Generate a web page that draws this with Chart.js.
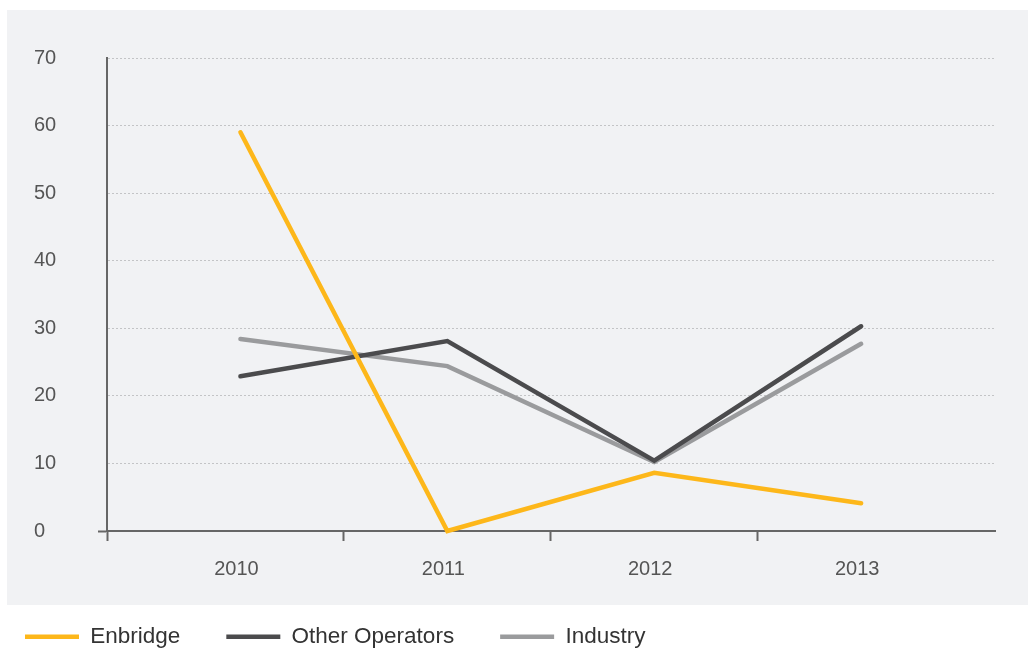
<!DOCTYPE html>
<html>
<head>
<meta charset="utf-8">
<script src="https://cdn.jsdelivr.net/npm/chart.js@4.4.1/dist/chart.umd.min.js"></script>
<style>
  html, body { margin: 0; padding: 0; background: #fff; overflow: hidden; width: 1028px; height: 652px; }
  .panel { position: absolute; left: 7px; top: 10px; width: 1021px; height: 595px; background: #f1f2f4; }
  #chart { position: absolute; left: -24px; top: 0; }
</style>
</head>
<body>
<div class="panel"></div>
<canvas id="chart" width="1052" height="658"></canvas>
<script>
const years = ["2010", "2011", "2012", "2013"];
const enbridge = [59, 0, 8.6, 4.1];
const otherOperators = [22.9, 28.1, 10.4, 30.3];
const industry = [28.4, 24.4, 10.2, 27.7];
const yTicks = [0, 10, 20, 30, 40, 50, 60, 70];

const FONT = "'Liberation Sans', Arial, sans-serif";
const AXIS = "#666";

// years sit on whole numbers, the small divider marks sit halfway between them
const toPoints = (arr) => arr.map((v, i) => ({ x: i, y: v }));

function line(label, data, color) {
    return {
        label,
        data: toPoints(data),
        borderColor: color,
        backgroundColor: color,
        borderWidth: 4.5,
        borderCapStyle: "round",
        borderJoinStyle: "miter",
        pointRadius: 0,
        pointHoverRadius: 0,
        tension: 0,
        fill: false,
        clip: false,
    };
}

new Chart(document.getElementById("chart"), {
    type: "line",
    data: {
        datasets: [
            line("Enbridge", enbridge, "#fdb71a"),
            line("Other Operators", otherOperators, "#4b4b4d"),
            line("Industry", industry, "#9a9b9d"),
        ],
    },
    options: {
        responsive: false,
        animation: false,
        layout: { padding: { left: 3, right: 33, top: 58, bottom: 0 } },
        plugins: {
            tooltip: { enabled: false },
            legend: {
                position: "bottom",
                align: "start",
                labels: {
                    usePointStyle: true,
                    pointStyle: "line",
                    pointStyleWidth: 54,
                    padding: 46,
                    color: "#333",
                    font: { family: FONT, size: 22.5 },
                },
            },
        },
        scales: {
            x: {
                type: "linear",
                min: -0.645,
                max: 3.647,
                afterBuildTicks: (scale) => {
                    const vals = [scale.min];
                    years.forEach((_, i) => {
                        if (i > 0) vals.push(i - 0.5);
                        vals.push(i);
                    });
                    scale.ticks = vals.map((value) => ({ value }));
                },
                afterFit: (scale) => { scale.height = 48.5; },
                ticks: {
                    autoSkip: false,
                    maxRotation: 0,
                    minRotation: 0,
                    padding: 16,
                    labelOffset: -4,
                    color: "#555",
                    font: { family: FONT, size: 20 },
                    callback: (value) => (Number.isInteger(value) && years[value] !== undefined ? years[value] : ""),
                },
                grid: {
                    drawOnChartArea: false,
                    drawTicks: true,
                    tickLength: 10,
                    tickWidth: 2,
                    tickColor: (ctx) => (ctx.tick && Number.isInteger(ctx.tick.value) ? "rgba(0,0,0,0)" : AXIS),
                },
                border: { display: true, color: AXIS, width: 2 },
            },
            y: {
                min: 0,
                max: 70,
                afterBuildTicks: (scale) => { scale.ticks = yTicks.map((value) => ({ value })); },
                afterFit: (scale) => { scale.width = 73; },
                ticks: {
                    crossAlign: "far",
                    color: "#555",
                    font: { family: FONT, size: 20 },
                },
                grid: {
                    color: (ctx) => (ctx.tick && ctx.tick.value === 0 ? "rgba(0,0,0,0)" : "#c3c4c6"),
                    lineWidth: 1,
                    tickLength: 9,
                    tickWidth: 2,
                    tickColor: (ctx) => (ctx.tick && ctx.tick.value === 0 ? AXIS : "rgba(0,0,0,0)"),
                },
                border: { display: true, color: AXIS, width: 2, dash: [2, 2] },
            },
            // empty gutter that keeps the y labels off the left edge
            gutter: {
                type: "linear",
                position: "left",
                weight: 5,
                min: 0,
                max: 1,
                grid: { display: false },
                border: { display: false },
                ticks: { display: false },
                afterFit: (scale) => { scale.width = 55; },
            },
        },
    },
});
</script>
</body>
</html>
